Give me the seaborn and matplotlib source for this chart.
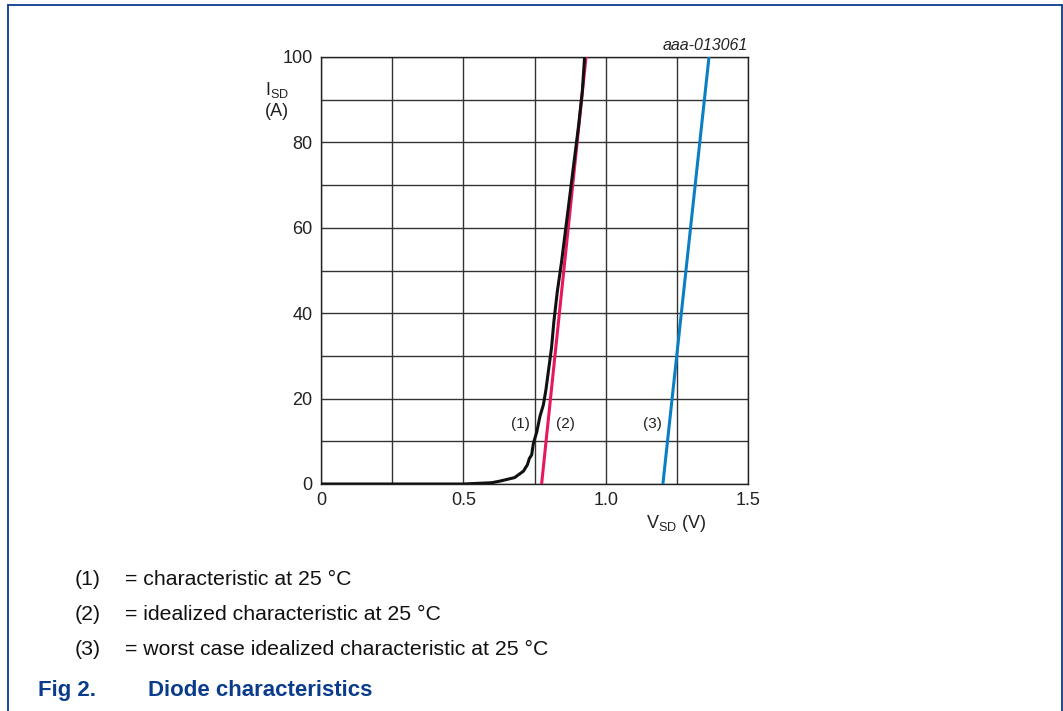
import numpy as np
import pandas as pd
import matplotlib
matplotlib.use("Agg")
import matplotlib.pyplot as plt
from matplotlib.lines import Line2D
import seaborn as sns

# ---- data ----
v_char = [0.0, 0.25, 0.50, 0.60, 0.63, 0.68, 0.711, 0.725, 0.732, 0.740, 0.746, 0.758, 0.769, 0.781,
          0.790, 0.800, 0.810, 0.818, 0.830, 0.845, 0.860, 0.875, 0.890, 0.905, 0.918, 0.926]
i_char = [0.0, 0.0, 0.0, 0.3, 0.7, 1.5, 3.0, 4.5, 6.0, 6.8, 9.5, 12.2, 15.8, 18.5,
          22.0, 27.0, 32.0, 38.0, 45.0, 52.0, 60.0, 68.0, 76.0, 84.0, 92.0, 100.0]
v_ideal = [0.775, 0.931]
i_ideal = [0.0, 100.0]
v_worst = [1.201, 1.363]
i_worst = [0.0, 100.0]

x_ticks = [0, 0.5, 1.0, 1.5]
x_tick_labels = ["0", "0.5", "1.0", "1.5"]
y_ticks = [0, 20, 40, 60, 80, 100]
legend_keys = ["(1)", "(2)", "(3)"]
legend_texts = ["= characteristic at 25 \u00b0C",
                "= idealized characteristic at 25 \u00b0C",
                "= worst case idealized characteristic at 25 \u00b0C"]

sns.set_style("white")
plt.rcParams['font.family'] = ['Liberation Sans', 'DejaVu Sans']

W, H = 1063, 711
fig = plt.figure(figsize=(W / 100, H / 100), dpi=100)
ax = fig.add_axes([321 / W, 1 - 484 / H, (748 - 321) / W, (484 - 57) / H])

df1 = pd.DataFrame({"V": v_char, "I": i_char})
df2 = pd.DataFrame({"V": v_ideal, "I": i_ideal})
df3 = pd.DataFrame({"V": v_worst, "I": i_worst})
sns.lineplot(data=df2, x="V", y="I", ax=ax, color="#e8175d", lw=2.2, sort=False, zorder=4)
sns.lineplot(data=df1, x="V", y="I", ax=ax, color="#111111", lw=2.2, sort=False, zorder=5)
sns.lineplot(data=df3, x="V", y="I", ax=ax, color="#0a7fc4", lw=2.2, sort=False, zorder=4)

ax.set_xlim(0, 1.5)
ax.set_ylim(0, 100)
ax.set_xticks(np.arange(0, 1.51, 0.25))
ax.set_xticklabels([l for t in x_tick_labels for l in (t, "")][:-1])
ax.set_yticks(np.arange(0, 101, 10))
ax.set_yticklabels([str(v) if v in y_ticks else "" for v in range(0, 101, 10)])
ax.grid(True, color="#333333", lw=1.0)
ax.tick_params(length=0, labelsize=13, colors="#222222", pad=6)
for s in ax.spines.values():
    s.set_color("#222222")
    s.set_linewidth(1.0)
ax.set_xlabel("")
ax.set_ylabel("")

def ftext(x, y, s, **kw):
    fig.text(x / W, 1 - y / H, s, **kw)

ftext(277, 90, r"I$_{\mathregular{SD}}$", fontsize=13, ha="center", va="center", color="#222222")
ftext(277, 112, "(A)", fontsize=13, ha="center", va="center", color="#222222")
ftext(676, 523, r"V$_{\mathregular{SD}}$ (V)", fontsize=13, ha="center", va="center", color="#222222")
ftext(748, 46, "aaa-013061", fontsize=11.5, ha="right", va="center", style="italic", color="#222222")

ftext(520, 424, "(1)", fontsize=11, ha="center", va="center", color="#222222")
ftext(565, 424, "(2)", fontsize=11, ha="center", va="center", color="#222222")
ftext(652, 424, "(3)", fontsize=11, ha="center", va="center", color="#222222")

for k, (key, txt) in enumerate(zip(legend_keys, legend_texts)):
    y = 585 + 35 * k
    ftext(75, y, key, fontsize=15.3, ha="left", va="baseline", color="#111111")
    ftext(125, y, txt, fontsize=15.3, ha="left", va="baseline", color="#111111")

ftext(38, 696, "Fig 2.", fontsize=16, ha="left", va="baseline", weight="bold", color="#0a3c8c")
ftext(148, 696, "Diode characteristics", fontsize=16, ha="left", va="baseline", weight="bold", color="#0a3c8c")

frame_c = "#0a3c8c"
fig.add_artist(Line2D([7.5 / W, 7.5 / W], [0, 1 - 4.5 / H], transform=fig.transFigure, color=frame_c, lw=1.3))
fig.add_artist(Line2D([7.5 / W, 1061.5 / W], [1 - 4.5 / H, 1 - 4.5 / H], transform=fig.transFigure, color=frame_c, lw=1.3))
fig.add_artist(Line2D([1061.5 / W, 1061.5 / W], [0, 1 - 4.5 / H], transform=fig.transFigure, color=frame_c, lw=1.3))

fig.savefig("out.png", dpi=100)
